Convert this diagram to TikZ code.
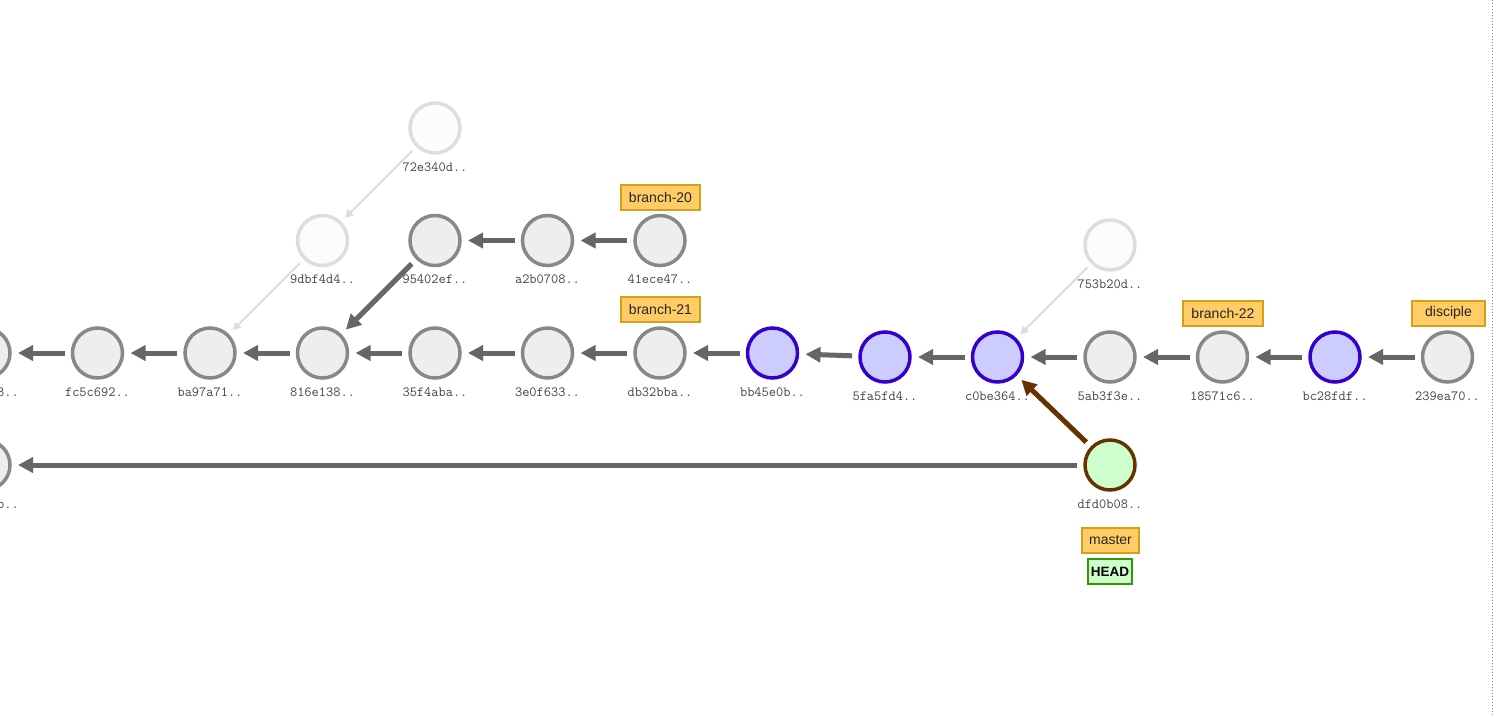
\documentclass[tikz,border=0pt]{standalone}
\usepackage{fontspec}
\setmainfont{Liberation Sans}
\usetikzlibrary{arrows.meta}
\definecolor{cfill}{HTML}{EEEEEE}
\definecolor{cline}{HTML}{888888}
\definecolor{ffill}{HTML}{FCFCFC}
\definecolor{fline}{HTML}{DDDDDD}
\definecolor{bfill}{HTML}{CCCCFF}
\definecolor{bline}{HTML}{3300CC}
\definecolor{hfill}{HTML}{CCFFCC}
\definecolor{brown}{HTML}{663300}
\definecolor{edge}{HTML}{666666}
\definecolor{tagfill}{HTML}{FFCC66}
\definecolor{tagline}{HTML}{D4A017}
\definecolor{headline}{HTML}{339900}
\definecolor{hashtext}{HTML}{444444}
\tikzset{
  commit/.style={circle, minimum size=50pt, inner sep=0pt, outer sep=0pt,
    line width=3.5pt, draw=cline, fill=cfill},
  faded/.style={commit, draw=fline, fill=ffill},
  marked/.style={commit, draw=bline, fill=bfill},
  current/.style={commit, draw=brown, fill=hfill},
  hash/.style={font=\ttfamily\fontsize{14}{16}\selectfont, text=hashtext, inner sep=0pt},
  tag/.style={draw=tagline, fill=tagfill, line width=2pt, minimum height=25pt,
    inner xsep=0pt, inner ysep=0pt, font=\fontsize{14}{16}\selectfont, text=black!85},
  headtag/.style={draw=headline, fill=hfill, line width=2pt, minimum height=25pt,
    inner xsep=2.5pt, inner ysep=0pt, font=\bfseries\fontsize{13.5}{16}\selectfont},
  parent/.style={draw=edge, line width=5pt, shorten <=8pt, shorten >=8pt,
    -{Triangle[length=15pt,width=15pt]}},
  parentb/.style={parent, draw=brown},
  ghost/.style={draw=fline, line width=2pt, shorten <=7pt, shorten >=7pt,
    -{Triangle[length=8pt,width=8pt]}}
}
\begin{document}
\begin{tikzpicture}[x=1pt,y=-1pt]
\useasboundingbox (0,0) rectangle (1496,717);
\clip (0,0) rectangle (1496,717);
\fill[white] (0,0) rectangle (1496,717);
\draw[cline, dotted, line width=1pt] (1492.5,0) -- (1492.5,717);

% main line
\node[commit] (l1) at (-15,353) {};
\node[commit] (cfc5c692) at (97.5,353) {};
\node[commit] (cba97a71) at (210,353) {};
\node[commit] (c816e138) at (322.5,353) {};
\node[commit] (c35f4aba) at (435,353) {};
\node[commit] (c3e0f633) at (547.5,353) {};
\node[commit] (cdb32bba) at (660,353) {};
\node[marked] (cbb45e0b) at (772.5,353) {};
\node[marked] (c5fa5fd4) at (885,357) {};
\node[marked] (cc0be364) at (997.5,357) {};
\node[commit] (c5ab3f3e) at (1110,357) {};
\node[commit] (c18571c6) at (1222.5,357) {};
\node[marked] (cbc28fdf) at (1335,357) {};
\node[commit] (c239ea70) at (1447.5,357) {};

% upper branch
\node[faded] (c72e340d) at (435,128) {};
\node[faded] (c9dbf4d4) at (322.5,240.5) {};
\node[commit] (c95402ef) at (435,240.5) {};
\node[commit] (ca2b0708) at (547.5,240.5) {};
\node[commit] (c41ece47) at (660,240.5) {};
\node[faded] (c753b20d) at (1110,245) {};

% lower line
\node[commit] (l2) at (-15,465) {};
\node[current] (cdfd0b08) at (1110,465) {};

% hashes
\node[hash, anchor=east] (h1) at (19,392) {3..};
\node[hash] (hfc5c692) at (97.5,392) {fc5c692..};
\node[hash] (hba97a71) at (210,392) {ba97a71..};
\node[hash] (h816e138) at (322.5,392) {816e138..};
\node[hash] (h35f4aba) at (435,392) {35f4aba..};
\node[hash] (h3e0f633) at (547.5,392) {3e0f633..};
\node[hash] (hdb32bba) at (660,392) {db32bba..};
\node[hash] (hbb45e0b) at (772.5,392) {bb45e0b..};
\node[hash] (h5fa5fd4) at (885,396) {5fa5fd4..};
\node[hash] (hc0be364) at (997.5,396) {c0be364..};
\node[hash] (h5ab3f3e) at (1110,396) {5ab3f3e..};
\node[hash] (h18571c6) at (1222.5,396) {18571c6..};
\node[hash] (hbc28fdf) at (1335,396) {bc28fdf..};
\node[hash] (h239ea70) at (1447.5,396) {239ea70..};
\node[hash] (h72e340d) at (435,167) {72e340d..};
\node[hash] (h9dbf4d4) at (322.5,279.5) {9dbf4d4..};
\node[hash] (h95402ef) at (435,279.5) {95402ef..};
\node[hash] (ha2b0708) at (547.5,279.5) {a2b0708..};
\node[hash] (h41ece47) at (660,279.5) {41ece47..};
\node[hash] (h753b20d) at (1110,284) {753b20d..};
\node[hash, anchor=east] (h2) at (19,504) {b..};
\node[hash] (hdfd0b08) at (1110,504) {dfd0b08..};

% refs
\node[tag, minimum width=79pt] (tb20) at (660.5,197) {branch-20};
\node[tag, minimum width=79pt] (tb21) at (660.5,309.5) {branch-21};
\node[tag, minimum width=80pt] (tb22) at (1223,313) {branch-22};
\node[tag, minimum width=73pt] (tdis) at (1448.5,313) {disciple};
\node[tag, minimum width=57pt] (tmaster) at (1110.5,540.5) {master};
\node[headtag] (thead) at (1110,571.5) {HEAD};

% parent links
\draw[ghost] (c72e340d) -- (c9dbf4d4);
\draw[ghost] (c9dbf4d4) -- (cba97a71);
\draw[ghost] (c753b20d) -- (cc0be364);
\draw[parent] (cfc5c692) -- (l1);
\draw[parent] (cba97a71) -- (cfc5c692);
\draw[parent] (c816e138) -- (cba97a71);
\draw[parent] (c35f4aba) -- (c816e138);
\draw[parent] (c3e0f633) -- (c35f4aba);
\draw[parent] (cdb32bba) -- (c3e0f633);
\draw[parent] (cbb45e0b) -- (cdb32bba);
\draw[parent] (c5fa5fd4) -- (cbb45e0b);
\draw[parent] (cc0be364) -- (c5fa5fd4);
\draw[parent] (c5ab3f3e) -- (cc0be364);
\draw[parent] (c18571c6) -- (c5ab3f3e);
\draw[parent] (cbc28fdf) -- (c18571c6);
\draw[parent] (c239ea70) -- (cbc28fdf);
\draw[parent] (ca2b0708) -- (c95402ef);
\draw[parent] (c41ece47) -- (ca2b0708);
\draw[parent] (c95402ef) -- (c816e138);
\draw[parentb] (cdfd0b08) -- (cc0be364);
\draw[parent] (cdfd0b08) -- (l2);
\end{tikzpicture}
\end{document}
